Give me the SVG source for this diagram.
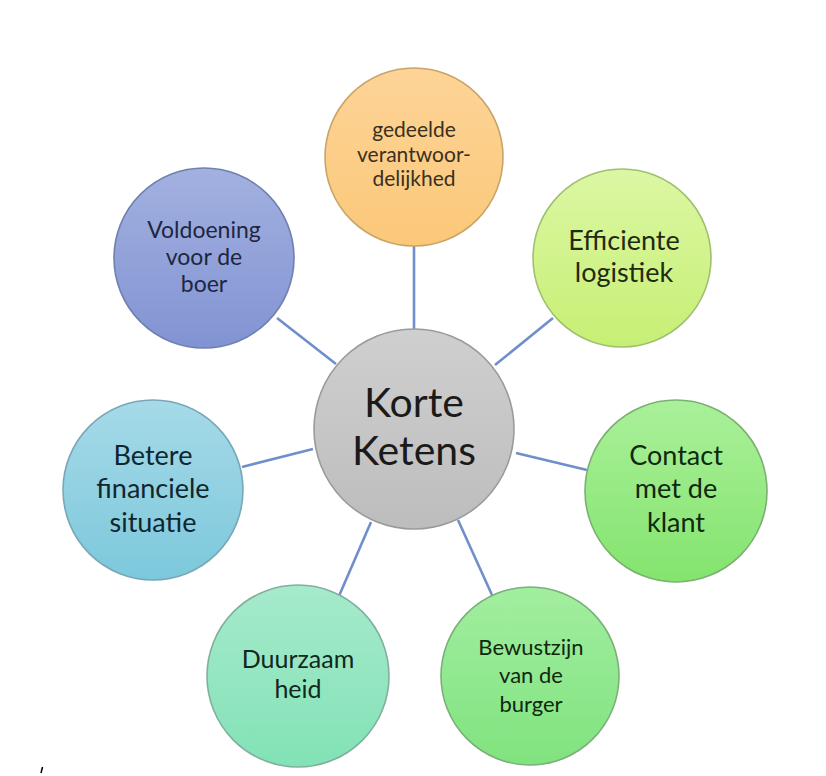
<svg xmlns="http://www.w3.org/2000/svg" width="826" height="776" viewBox="0 0 826 776">
<style>
.node circle{stroke-width:1.6}
.lbl{font-family:Lato,"Open Sans","Liberation Sans",sans-serif;text-anchor:middle}
.conn line{stroke:#6f8fcc;stroke-width:2.6}
</style>
<defs>
<linearGradient id="gGray" x1="0" y1="0" x2="0" y2="1"><stop offset="0" stop-color="#cfcfcf"/><stop offset="1" stop-color="#bdbdbd"/></linearGradient>
<linearGradient id="gOrange" x1="0" y1="0" x2="0" y2="1"><stop offset="0" stop-color="#fdd497"/><stop offset="1" stop-color="#fbc879"/></linearGradient>
<linearGradient id="gLime" x1="0" y1="0" x2="0" y2="1"><stop offset="0" stop-color="#dcf7a4"/><stop offset="1" stop-color="#c7ef74"/></linearGradient>
<linearGradient id="gBlue" x1="0" y1="0" x2="0" y2="1"><stop offset="0" stop-color="#a3b1e0"/><stop offset="1" stop-color="#8193d3"/></linearGradient>
<linearGradient id="gCyan" x1="0" y1="0" x2="0" y2="1"><stop offset="0" stop-color="#a6dae8"/><stop offset="1" stop-color="#7cc8dc"/></linearGradient>
<linearGradient id="gGreen" x1="0" y1="0" x2="0" y2="1"><stop offset="0" stop-color="#aaf09a"/><stop offset="1" stop-color="#84e46e"/></linearGradient>
<linearGradient id="gMint" x1="0" y1="0" x2="0" y2="1"><stop offset="0" stop-color="#a6eacb"/><stop offset="1" stop-color="#82e2b6"/></linearGradient>
<linearGradient id="gGreen2" x1="0" y1="0" x2="0" y2="1"><stop offset="0" stop-color="#a2eea0"/><stop offset="1" stop-color="#80e37e"/></linearGradient>
</defs>
<rect width="826" height="776" fill="#ffffff"/>
<g class="conn" id="connectors">
<line x1="414" y1="246" x2="414" y2="330"/>
<line x1="495" y1="365" x2="553" y2="318"/>
<line x1="336" y1="364" x2="277" y2="318"/>
<line x1="313" y1="449" x2="242" y2="467"/>
<line x1="516" y1="453" x2="587" y2="470"/>
<line x1="371" y1="522" x2="339" y2="596"/>
<line x1="458" y1="520" x2="492" y2="595"/>
</g>
<g class="node" id="center"><circle cx="414" cy="429" r="100" fill="url(#gGray)" stroke="#9a9a9a"/>
<text class="lbl" x="414" y="417" font-size="41" fill="#1a1a1a">Korte</text>
<text class="lbl" x="414" y="465" font-size="41" fill="#1a1a1a">Ketens</text></g>
<g class="node" id="gedeelde"><circle cx="414" cy="157" r="89" fill="url(#gOrange)" stroke="#c9a468"/>
<text class="lbl" x="414" y="137" font-size="21" fill="#3a3020">gedeelde</text>
<text class="lbl" x="414" y="162" font-size="21" fill="#3a3020">verantwoor-</text>
<text class="lbl" x="414" y="186" font-size="21" fill="#3a3020">delijkhed</text></g>
<g class="node" id="efficiente"><circle cx="622" cy="258" r="89" fill="url(#gLime)" stroke="#9fc070"/>
<text class="lbl" x="624" y="250" font-size="27" fill="#1f2a10">Efficiente</text>
<text class="lbl" x="624" y="282" font-size="27" fill="#1f2a10">logistiek</text></g>
<g class="node" id="voldoening"><circle cx="204" cy="258" r="90" fill="url(#gBlue)" stroke="#7080b0"/>
<text class="lbl" x="204" y="238" font-size="23" fill="#1e2640">Voldoening</text>
<text class="lbl" x="204" y="265" font-size="23" fill="#1e2640">voor de</text>
<text class="lbl" x="204" y="292" font-size="23" fill="#1e2640">boer</text></g>
<g class="node" id="betere"><circle cx="153" cy="490" r="90" fill="url(#gCyan)" stroke="#78a8b8"/>
<text class="lbl" x="153" y="465" font-size="27" fill="#10262e">Betere</text>
<text class="lbl" x="153" y="498" font-size="27" fill="#10262e">financiele</text>
<text class="lbl" x="153" y="532" font-size="27" fill="#10262e">situatie</text></g>
<g class="node" id="contact"><circle cx="676" cy="491" r="91" fill="url(#gGreen)" stroke="#7ab070"/>
<text class="lbl" x="676" y="465" font-size="27" fill="#10280e">Contact</text>
<text class="lbl" x="676" y="498" font-size="27" fill="#10280e">met de</text>
<text class="lbl" x="676" y="532" font-size="27" fill="#10280e">klant</text></g>
<g class="node" id="duurzaam"><circle cx="298" cy="676" r="91" fill="url(#gMint)" stroke="#80b09c"/>
<text class="lbl" x="298" y="668" font-size="25" fill="#10281e">Duurzaam</text>
<text class="lbl" x="298" y="698" font-size="25" fill="#10281e">heid</text></g>
<g class="node" id="bewustzijn"><circle cx="530" cy="676" r="89" fill="url(#gGreen2)" stroke="#7ab078"/>
<text class="lbl" x="531" y="655" font-size="22" fill="#10280e">Bewustzijn</text>
<text class="lbl" x="531" y="683" font-size="22" fill="#10280e">van de</text>
<text class="lbl" x="531" y="712" font-size="22" fill="#10280e">burger</text></g>
<line x1="42.5" y1="767" x2="41" y2="773" stroke="#000" stroke-width="1.5"/>
</svg>
